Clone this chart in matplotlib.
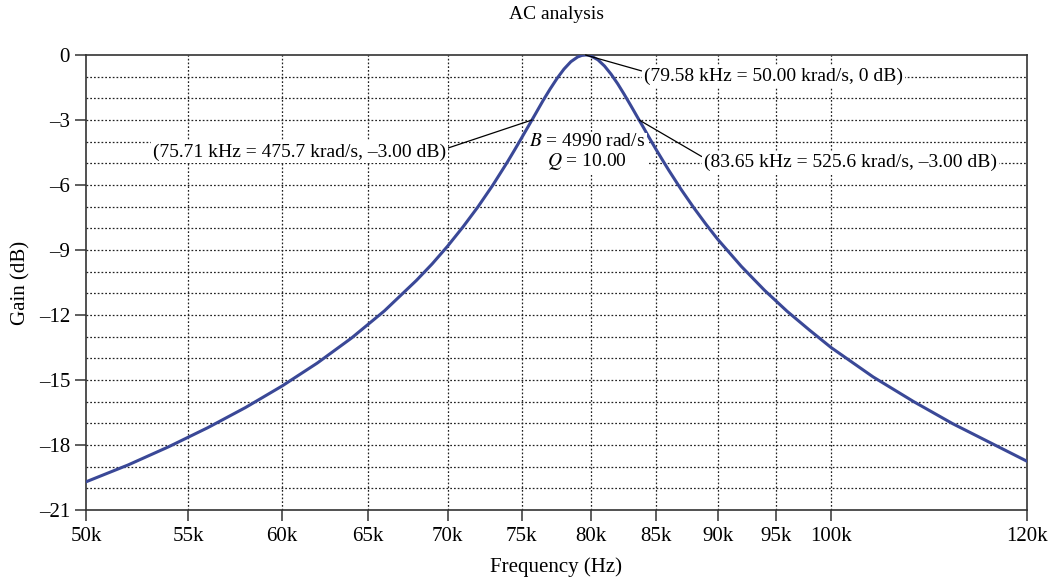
import matplotlib
matplotlib.use("Agg")
import matplotlib.pyplot as plt
from matplotlib.ticker import FixedLocator, NullFormatter, NullLocator

plt.rcParams['font.family'] = ['Liberation Serif', 'DejaVu Serif']
plt.rcParams['mathtext.fontset'] = 'stix'

# Data (frequency in kHz, gain in dB)
freq_khz = [50, 52, 54, 56, 58, 60, 62, 64, 66, 68, 69, 70, 71, 72, 73, 74, 74.5,
            75, 75.5, 76, 76.5, 77, 77.5, 78, 78.5, 79, 79.3, 79.58, 79.8, 80,
            80.5, 81, 81.5, 82, 82.5, 83, 83.5, 84, 84.5, 85, 85.5, 86, 87, 88,
            89, 90, 92, 94, 96, 98, 100, 104, 108, 112, 116, 120]
gain_db = [-19.70, -18.92, -18.08, -17.20, -16.27, -15.28, -14.22, -13.07,
           -11.81, -10.40, -9.64, -8.82, -7.94, -7.01, -6.01, -4.94, -4.38,
           -3.81, -3.24, -2.67, -2.10, -1.57, -1.08, -0.65, -0.31, -0.09, -0.02,
           0.0, -0.01, -0.05, -0.22, -0.51, -0.89, -1.33, -1.82, -2.33, -2.85,
           -3.36, -3.88, -4.38, -4.86, -5.33, -6.22, -7.04, -7.80, -8.51, -9.76,
           -10.86, -11.83, -12.69, -13.50, -14.86, -16.00, -17.02, -17.90, -18.75]
freq = [f * 1000 for f in freq_khz]

x_ticks = [50e3, 55e3, 60e3, 65e3, 70e3, 75e3, 80e3, 85e3, 90e3, 95e3, 100e3, 120e3]
x_labels = ['50k', '55k', '60k', '65k', '70k', '75k', '80k', '85k', '90k', '95k', '100k', '120k']
y_ticks = [0, -3, -6, -9, -12, -15, -18, -21]
y_labels = ['0', '–3', '–6', '–9', '–12', '–15', '–18', '–21']
y_grid = list(range(-20, 0))

peak = (79.58e3, 0.0)
lower3 = (75.71e3, -3.0)
upper3 = (83.65e3, -3.0)

fig = plt.figure(figsize=(10.51, 5.78), dpi=100)
ax = fig.add_axes([86/1051, 1 - 510/578, (1027 - 86)/1051, (510 - 55)/578])

ax.set_xscale('log')
ax.set_xlim(50e3, 120e3)
ax.set_ylim(-21, 0)

grid_kw = dict(color='#222222', lw=0.9, ls=(0, (1.4, 1.6)), zorder=1)
for xv in x_ticks[1:-1]:
    ax.axvline(xv, **grid_kw)
for yv in y_grid:
    ax.axhline(yv, **grid_kw)

ax.plot(freq, gain_db, color='#3a4897', lw=2.2, zorder=3)

ax.xaxis.set_major_locator(FixedLocator(x_ticks))
ax.xaxis.set_minor_locator(NullLocator())
ax.xaxis.set_minor_formatter(NullFormatter())
ax.set_xticks(x_ticks)
ax.set_xticklabels(x_labels)
ax.set_yticks(y_ticks)
ax.set_yticklabels(y_labels)
ax.tick_params(axis='both', direction='out', length=8, width=1.1, labelsize=15,
               top=False, right=False, color='#333333')
ax.tick_params(axis='x', pad=4)
for s in ax.spines.values():
    s.set_linewidth(1.2)
    s.set_color('#333333')

ax.set_title('AC analysis', fontsize=14, pad=26)
ax.set_xlabel('Frequency (Hz)', fontsize=15, labelpad=8)
ax.set_ylabel('Gain (dB)', fontsize=15, labelpad=6)

box = dict(boxstyle='square,pad=0.1', fc='white', ec='none')
line = dict(arrowstyle='-', lw=0.9, color='black', shrinkA=0, shrinkB=0)

ax.annotate('(79.58 kHz = 50.00 krad/s, 0 dB)', xy=peak, xytext=(84.0e3, -1.0),
            ha='left', va='center', fontsize=14, bbox=box, zorder=4,
            arrowprops=dict(line, relpos=(0, 0.8)))
ax.annotate('(75.71 kHz = 475.7 krad/s, –3.00 dB)', xy=lower3, xytext=(61.0e3, -4.48),
            ha='center', va='center', fontsize=14, bbox=box, zorder=4,
            arrowprops=dict(line, relpos=(1, 0.7)))
ax.annotate('(83.65 kHz = 525.6 krad/s, –3.00 dB)', xy=upper3, xytext=(101.8e3, -4.94),
            ha='center', va='center', fontsize=14, bbox=box, zorder=4,
            arrowprops=dict(line, relpos=(0, 0.75)))
ax.text(79.69e3, -4.5, '$B$ = 4990 rad/s\n$Q$ = 10.00', ha='center', va='center',
        fontsize=14, linespacing=1.1, bbox=box, zorder=4)

fig.savefig('out.png', dpi=100)
